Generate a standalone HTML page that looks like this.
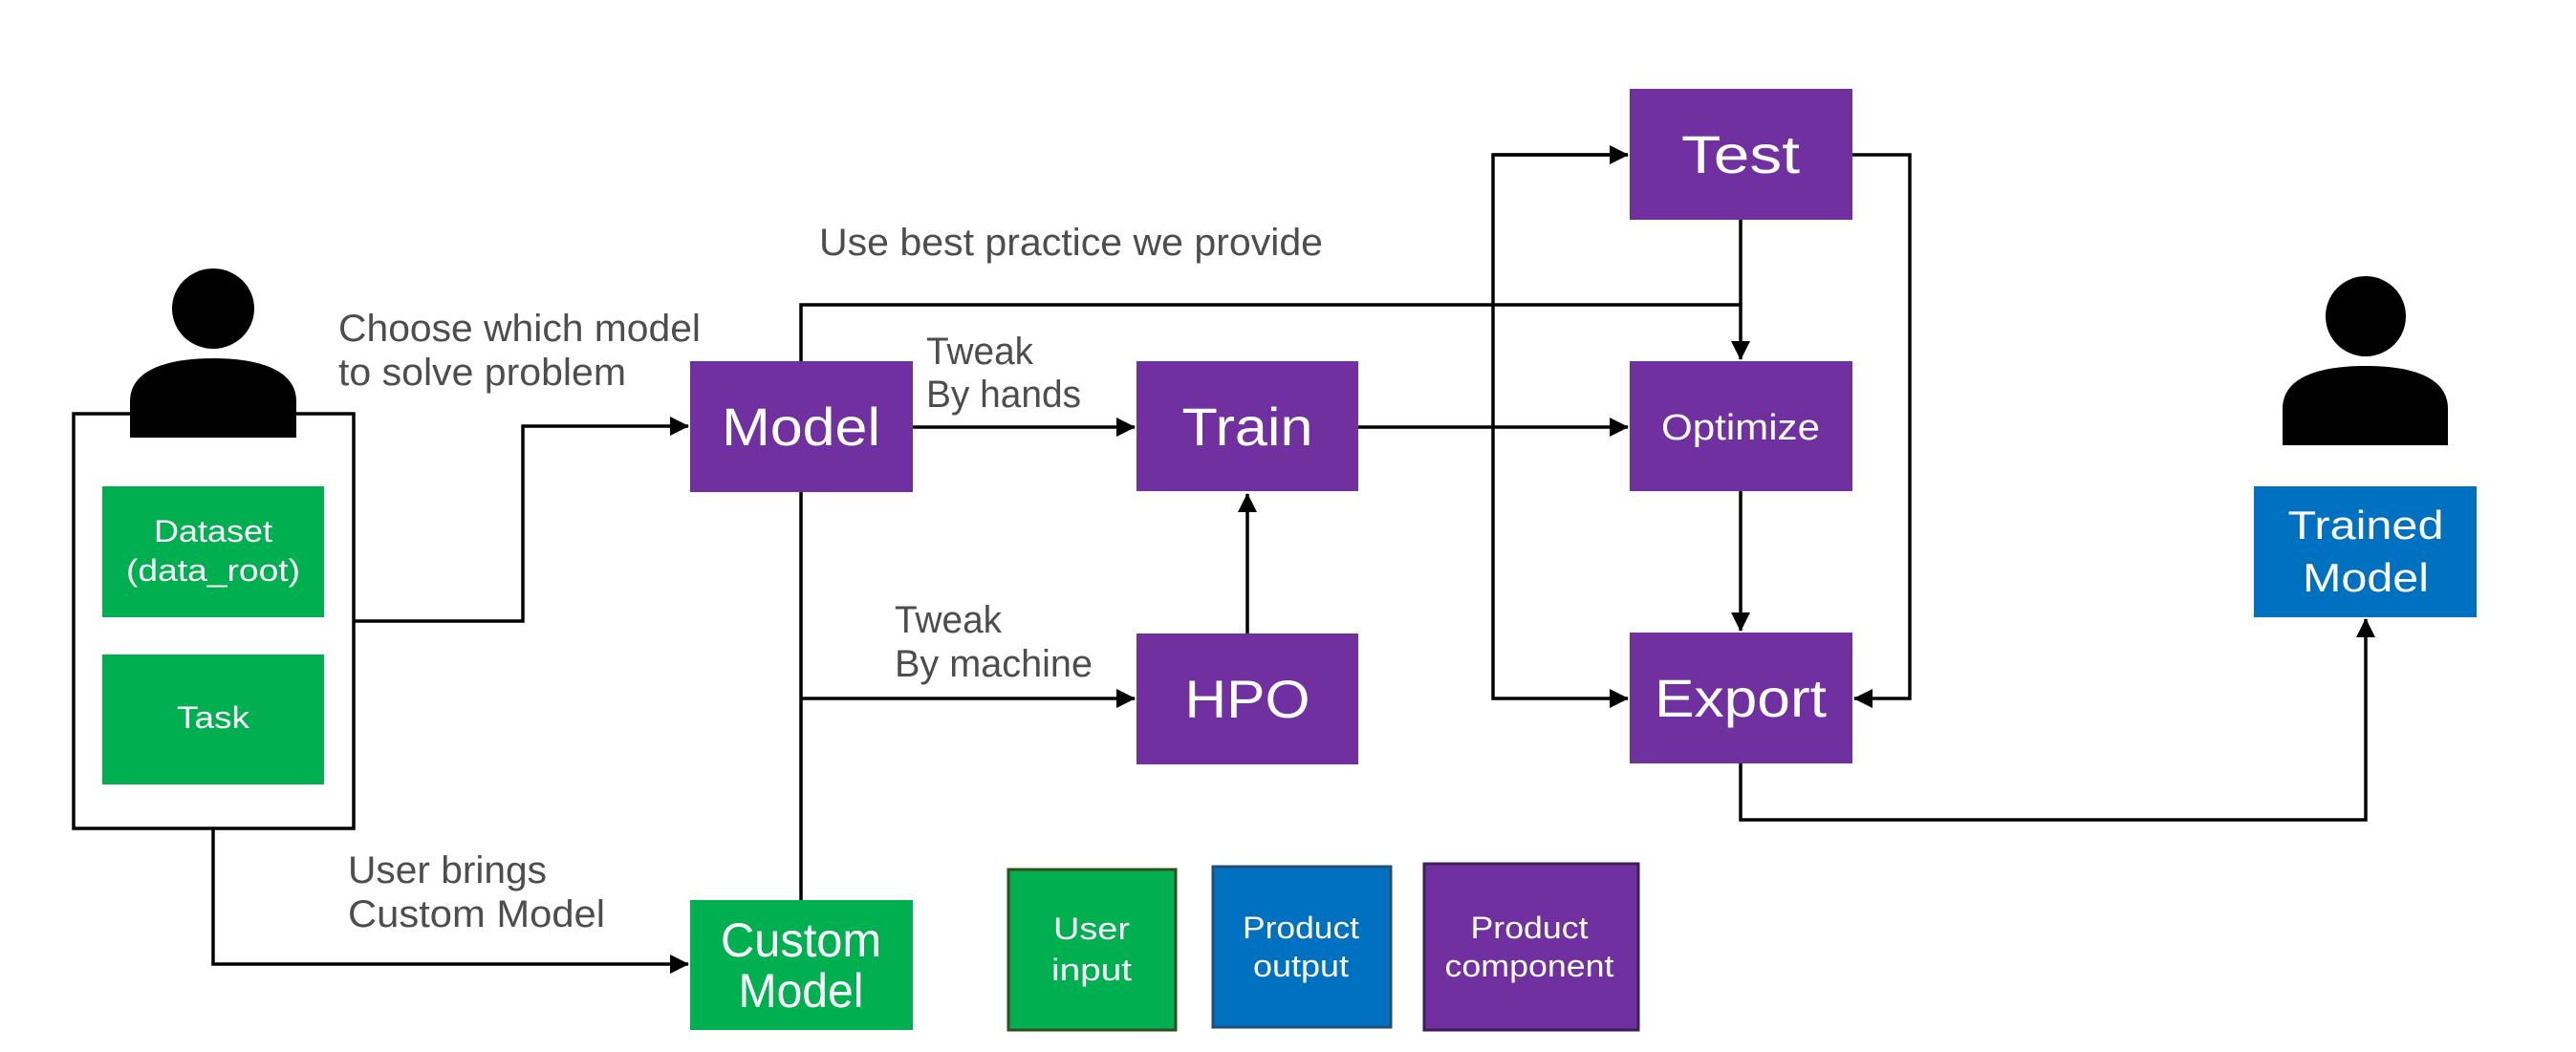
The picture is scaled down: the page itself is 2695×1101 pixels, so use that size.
<!DOCTYPE html>
<html><head><meta charset="utf-8"><style>
html,body{margin:0;padding:0;background:#fff;}
svg{display:block;}
text{font-family:"Liberation Sans",sans-serif;}
.lb{fill:#4d4d4d;font-size:40px;}
.bx{fill:#fff;}
</style></head><body>
<svg width="2695" height="1101" viewBox="0 0 2695 1101" xmlns="http://www.w3.org/2000/svg">
<defs>
<marker id="a" markerWidth="20" markerHeight="20" refX="19" refY="10" orient="auto" markerUnits="userSpaceOnUse">
<path d="M0,0 L20,10 L0,20 Z" fill="#000"/></marker>
</defs>
<rect width="2695" height="1101" fill="#fff"/>
<g fill="none" stroke="#000" stroke-width="3.5">
<!-- container -->
<rect x="77" y="433" width="293" height="434"/>
<!-- dataset -> model -->
<polyline points="370,650 547,650 547,446 720,446" marker-end="url(#a)"/>
<!-- container -> custom -->
<polyline points="223,867 223,1009 720,1009" marker-end="url(#a)"/>
<!-- model vertical to custom -->
<line x1="838" y1="515" x2="838" y2="942"/>
<!-- to HPO -->
<polyline points="838,731 1187,731" marker-end="url(#a)"/>
<!-- model -> train -->
<polyline points="955,447 1187,447" marker-end="url(#a)"/>
<!-- top best practice -->
<polyline points="838,378 838,319 1821,319"/>
<!-- test -> optimize -->
<polyline points="1821,230 1821,376" marker-end="url(#a)"/>
<!-- train -> optimize -->
<polyline points="1421,447 1703,447" marker-end="url(#a)"/>
<!-- HPO -> train -->
<polyline points="1305,663 1305,517" marker-end="url(#a)"/>
<!-- vertical left bus -->
<polyline points="1703,162 1562,162 1562,731 1703,731" marker-end="url(#a)"/>
<line x1="1562" y1="162" x2="1703" y2="162" marker-end="url(#a)"/>
<!-- test right loop -->
<polyline points="1938,162 1998,162 1998,731 1940,731" marker-end="url(#a)"/>
<!-- optimize -> export -->
<polyline points="1821,514 1821,660" marker-end="url(#a)"/>
<!-- export -> trained -->
<polyline points="1821,799 1821,858 2475,858 2475,648" marker-end="url(#a)"/>
</g>
<!-- persons -->
<ellipse cx="223" cy="323" rx="43" ry="42" fill="#000"/>
<path d="M136,458 L136,420 C136,385 180,375 223,375 C266,375 310,385 310,420 L310,458 Z" fill="#000"/>
<ellipse cx="2475" cy="331" rx="42" ry="42" fill="#000"/>
<path d="M2388,466 L2388,428 C2388,393 2430,383 2475,383 C2520,383 2561,393 2561,428 L2561,466 Z" fill="#000"/>
<!-- green boxes -->
<rect x="107" y="509" width="232" height="137" fill="#00B050"/>
<text class="bx" x="223" y="567" font-size="32" text-anchor="middle" textLength="124" lengthAdjust="spacingAndGlyphs">Dataset</text>
<text class="bx" x="223" y="608" font-size="32" text-anchor="middle" textLength="182" lengthAdjust="spacingAndGlyphs">(data_root)</text>
<rect x="107" y="685" width="232" height="136" fill="#00B050"/>
<text class="bx" x="223" y="762" font-size="32" text-anchor="middle" textLength="76" lengthAdjust="spacingAndGlyphs">Task</text>
<rect x="722" y="942" width="233" height="136" fill="#00B050"/>
<text class="bx" x="838" y="1001" font-size="50" text-anchor="middle" textLength="168" lengthAdjust="spacingAndGlyphs">Custom</text>
<text class="bx" x="838" y="1054" font-size="50" text-anchor="middle" textLength="131" lengthAdjust="spacingAndGlyphs">Model</text>
<!-- purple boxes -->
<g fill="#7030A0">
<rect x="722" y="378" width="233" height="137"/>
<rect x="1189" y="378" width="232" height="136"/>
<rect x="1189" y="663" width="232" height="137"/>
<rect x="1705" y="93" width="233" height="137"/>
<rect x="1705" y="378" width="233" height="136"/>
<rect x="1705" y="662" width="233" height="137"/>
</g>
<text class="bx" x="838" y="466" font-size="56" text-anchor="middle" textLength="166" lengthAdjust="spacingAndGlyphs">Model</text>
<text class="bx" x="1305" y="466" font-size="56" text-anchor="middle" textLength="137" lengthAdjust="spacingAndGlyphs">Train</text>
<text class="bx" x="1305" y="751" font-size="56" text-anchor="middle" textLength="131" lengthAdjust="spacingAndGlyphs">HPO</text>
<text class="bx" x="1821" y="181" font-size="56" text-anchor="middle" textLength="124" lengthAdjust="spacingAndGlyphs">Test</text>
<text class="bx" x="1821" y="460" font-size="38" text-anchor="middle" textLength="166" lengthAdjust="spacingAndGlyphs">Optimize</text>
<text class="bx" x="1821" y="750" font-size="56" text-anchor="middle" textLength="180" lengthAdjust="spacingAndGlyphs">Export</text>
<!-- trained model -->
<rect x="2358" y="509" width="233" height="137" fill="#0070C0"/>
<text class="bx" x="2475" y="564" font-size="42" text-anchor="middle" textLength="163" lengthAdjust="spacingAndGlyphs">Trained</text>
<text class="bx" x="2475" y="619" font-size="42" text-anchor="middle" textLength="132" lengthAdjust="spacingAndGlyphs">Model</text>
<!-- legend -->
<rect x="1055" y="910" width="175" height="168" fill="#00B050" stroke="#2f4f1f" stroke-width="3"/>
<text class="bx" x="1142" y="983" font-size="32" text-anchor="middle" textLength="80" lengthAdjust="spacingAndGlyphs">User</text>
<text class="bx" x="1142" y="1026" font-size="32" text-anchor="middle" textLength="84" lengthAdjust="spacingAndGlyphs">input</text>
<rect x="1269" y="907" width="186" height="168" fill="#0070C0" stroke="#1f4e79" stroke-width="3"/>
<text class="bx" x="1361" y="982" font-size="32" text-anchor="middle" textLength="122" lengthAdjust="spacingAndGlyphs">Product</text>
<text class="bx" x="1361" y="1022" font-size="32" text-anchor="middle" textLength="100" lengthAdjust="spacingAndGlyphs">output</text>
<rect x="1490" y="904" width="224" height="174" fill="#7030A0" stroke="#3c1f5a" stroke-width="3"/>
<text class="bx" x="1600" y="982" font-size="32" text-anchor="middle" textLength="123" lengthAdjust="spacingAndGlyphs">Product</text>
<text class="bx" x="1600" y="1022" font-size="32" text-anchor="middle" textLength="177" lengthAdjust="spacingAndGlyphs">component</text>
<!-- labels -->
<text class="lb" x="354" y="357" textLength="379" lengthAdjust="spacingAndGlyphs">Choose which model</text>
<text class="lb" x="354" y="403" textLength="301" lengthAdjust="spacingAndGlyphs">to solve problem</text>
<text class="lb" x="857" y="267" textLength="527" lengthAdjust="spacingAndGlyphs">Use best practice we provide</text>
<text class="lb" x="969" y="381" textLength="112" lengthAdjust="spacingAndGlyphs">Tweak</text>
<text class="lb" x="969" y="426" textLength="162" lengthAdjust="spacingAndGlyphs">By hands</text>
<text class="lb" x="936" y="662" textLength="112" lengthAdjust="spacingAndGlyphs">Tweak</text>
<text class="lb" x="936" y="708" textLength="207" lengthAdjust="spacingAndGlyphs">By machine</text>
<text class="lb" x="364" y="924" textLength="208" lengthAdjust="spacingAndGlyphs">User brings</text>
<text class="lb" x="364" y="970" textLength="269" lengthAdjust="spacingAndGlyphs">Custom Model</text>
</svg>
</body></html>
